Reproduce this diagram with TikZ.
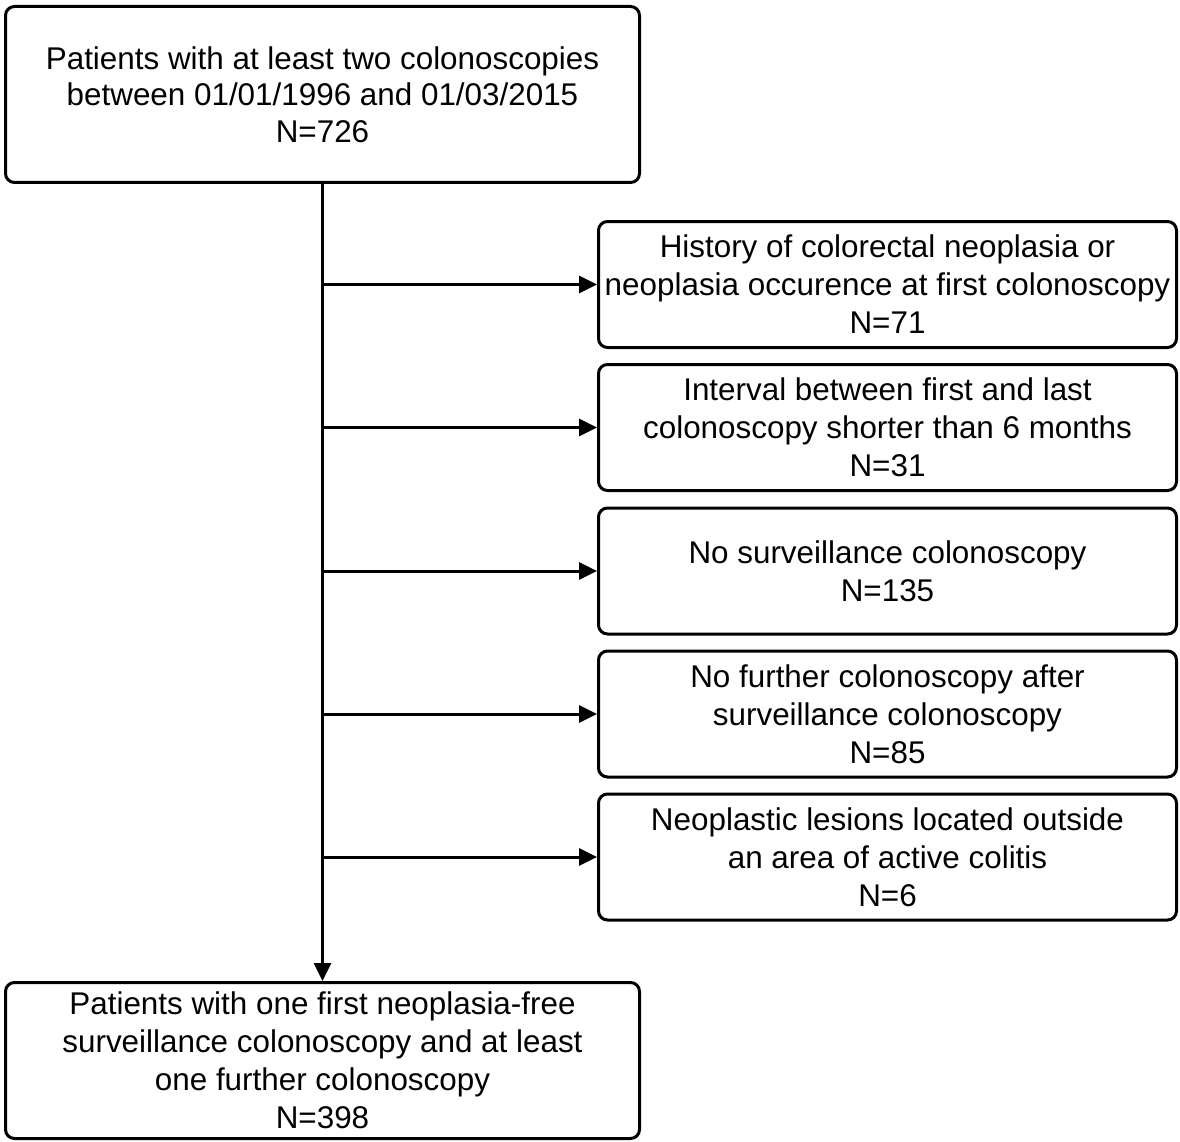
\documentclass[tikz,border=0pt]{standalone}
\usepackage{fontspec}
\setmainfont{Liberation Sans}
\usetikzlibrary{arrows.meta}
\begin{document}
\begin{tikzpicture}[x=1pt,y=-1pt,
  box/.style={draw, line width=3pt, rounded corners=9pt, inner sep=0pt, align=center,
    font=\fontsize{31.4}{38}\selectfont},
  mainbox/.style={box, minimum width=634pt},
  sidebox/.style={box, minimum width=578pt, minimum height=126pt},
  arr/.style={line width=3pt, -{Triangle[length=18pt,width=17pt]}}]
\useasboundingbox (0,0) rectangle (1180,1142);
\node[mainbox, minimum height=176pt] (top) at (322.5,94.5) {Patients with at least two colonoscopies\\[-1.5pt]between 01/01/1996 and 01/03/2015\\[-1.5pt]N=726};
\node[sidebox] (b1) at (887.5,284.5) {History of colorectal neoplasia or\\neoplasia occurence at first colonoscopy\\N=71};
\node[sidebox] (b2) at (887.5,427.5) {Interval between first and last\\colonoscopy shorter than 6 months\\N=31};
\node[sidebox] (b3) at (887.5,571) {No surveillance colonoscopy\\N=135};
\node[sidebox] (b4) at (887.5,714) {No further colonoscopy after\\surveillance colonoscopy\\N=85};
\node[sidebox] (b5) at (887.5,857) {Neoplastic lesions located outside\\an area of active colitis\\N=6};
\node[mainbox, minimum height=156pt] (bot) at (322.5,1060.5) {Patients with one first neoplasia-free\\surveillance colonoscopy and at least\\one further colonoscopy\\N=398};
\draw[arr] (top.south) -- (bot.north);
\foreach \b in {b1,b2,b3,b4,b5}
  \draw[arr] (top.south |- \b.west) -- (\b.west);
\end{tikzpicture}
\end{document}
